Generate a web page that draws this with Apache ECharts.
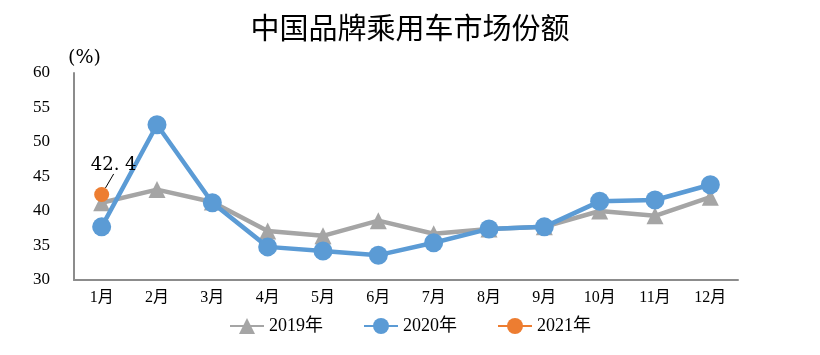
<!DOCTYPE html>
<html><head><meta charset="utf-8">
<script src="https://cdn.jsdelivr.net/npm/echarts@6/dist/echarts.min.js"></script>
<style>html,body{margin:0;padding:0;background:#fff}#c{width:820px;height:355px}</style>
</head><body><div id="c"></div>
<script>
var categories = ['1月','2月','3月','4月','5月','6月','7月','8月','9月','10月','11月','12月'];
var s2019 = [41.2, 43.1, 41.3, 37.1, 36.4, 38.6, 36.7, 37.4, 37.7, 40.0, 39.3, 42.0];
var s2020 = [37.7, 52.5, 41.2, 34.8, 34.2, 33.6, 35.4, 37.4, 37.7, 41.4, 41.6, 43.8];
var s2021 = [42.4, null, null, null, null, null, null, null, null, null, null, null];
var yTicks = [30, 35, 40, 45, 50, 55, 60];

var serif = '"Liberation Serif", "Noto Sans CJK SC", serif';
var chart = echarts.init(document.getElementById('c'));
chart.setOption({
  animation: false,
  title: {
    text: '中国品牌乘用车市场份额', left: 'center', top: 8,
    textStyle: {fontFamily: '"Noto Sans CJK SC", sans-serif', fontSize: 29, fontWeight: 'normal', color: '#000'}
  },
  legend: {
    bottom: 15, left: 'center', itemGap: 40, itemWidth: 34, itemHeight: 20,
    textStyle: {fontFamily: serif, fontSize: 18, color: '#000'},
    data: ['2019年','2020年','2021年']
  },
  grid: {left: 74, right: 82, top: 73, bottom: 75},
  xAxis: {
    type: 'category', data: categories, boundaryGap: true,
    axisLine: {lineStyle: {color: '#8c8c8c', width: 2}},
    axisTick: {show: false},
    axisLabel: {fontFamily: serif, fontSize: 16, color: '#000', margin: 10}
  },
  yAxis: {
    type: 'value', min: yTicks[0], max: yTicks[yTicks.length-1], interval: 5,
    name: '(%)', nameLocation: 'end', nameGap: 5,
    nameTextStyle: {fontFamily: '"DejaVu Serif", serif', fontSize: 19, color: '#000', align: 'left', padding: [0,0,0,-6], letterSpacing: 3},
    axisLine: {show: true, lineStyle: {color: '#8c8c8c', width: 2}},
    axisTick: {show: false},
    splitLine: {show: false},
    axisLabel: {fontFamily: serif, fontSize: 17, color: '#000', margin: 24}
  },
  series: [
    {name: '2019年', type: 'line', data: s2019, symbol: 'triangle', symbolSize: 17,
     lineStyle: {color: '#A5A5A5', width: 4.5}, itemStyle: {color: '#A5A5A5'}, z: 2},
    {name: '2020年', type: 'line', data: s2020, symbol: 'circle', symbolSize: 19,
     lineStyle: {color: '#5B9BD5', width: 4.5}, itemStyle: {color: '#5B9BD5'}, z: 3},
    {name: '2021年', type: 'line', data: s2021, symbol: 'circle', symbolSize: 15,
     lineStyle: {color: '#ED7D31', width: 4.5}, itemStyle: {color: '#ED7D31'}, z: 4,
     label: {show: true, position: 'top', fontFamily: '"DejaVu Serif", serif', fontSize: 18, color: '#000',
       formatter: function(p){ return p.value == null ? '' : String(p.value).replace('.', '. '); }},
     labelLayout: {dx: 12, dy: -8},
     labelLine: {show: true, lineStyle: {color: '#000', width: 1}, length2: 0}
    }
  ]
});
</script></body></html>
